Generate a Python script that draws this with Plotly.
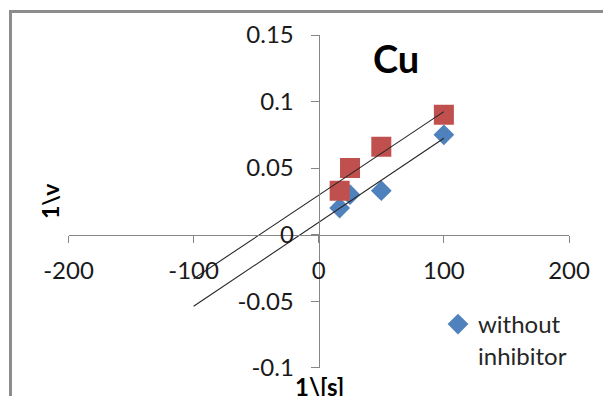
import numpy as np
import plotly.graph_objects as go

# Lineweaver-Burk data for Cu: 1/[S] against 1/v
inv_s = [16.7, 25, 50, 100]
inv_v_without = [0.020, 0.030, 0.033, 0.075]
inv_v_with = [0.033, 0.050, 0.066, 0.090]

x_tick_vals = [-200, -100, 0, 100, 200]
x_tick_text = ["-200", "-100", "0", "100", "200"]
y_tick_vals = [-0.1, -0.05, 0, 0.05, 0.1, 0.15]
y_tick_text = ["-0.1", "-0.05", "0", "0.05", "0.1", "0.15"]

x_range = [-200, 200]
y_range = [-0.1, 0.15]
trend_x = [-100, 100]  # trendlines extended backwards to 1/[S] = -100

W, H = 603, 396
x_dom = [68.5 / W, 569 / W]
y_dom = [1 - 367.7 / H, 1 - 35 / H]

FONT = "Lato"
BLUE = "#4F81BD"
RED = "#C0504D"
AXIS = "#868686"
FRAME = "#8c8c8c"


def cross_pos(dom, rng):
    # paper position of the value 0 on an axis
    return dom[0] + (0 - rng[0]) / (rng[1] - rng[0]) * (dom[1] - dom[0])


def px(x, y):
    # pixel position -> paper fractions
    return x / W, 1 - y / H


fig = go.Figure()

fig.add_trace(go.Scatter(
    x=inv_s, y=inv_v_without, mode="markers", name="without<br>inhibitor",
    marker=dict(symbol="diamond", size=16, color=BLUE),
    showlegend=True,
))
fig.add_trace(go.Scatter(
    x=inv_s, y=inv_v_with, mode="markers", name="with inhibitor",
    marker=dict(symbol="square", size=20, color=RED),
    showlegend=False,
))

# linear trendlines drawn over the markers
for ys in (inv_v_without, inv_v_with):
    slope, intercept = np.polyfit(inv_s, ys, 1)
    tx = np.array(trend_x, dtype=float)
    fig.add_trace(go.Scatter(
        x=tx, y=slope * tx + intercept, mode="lines",
        line=dict(color="#262626", width=1.1), showlegend=False,
        hoverinfo="skip",
    ))

# empty trace on a second pair of axes whose lines form the chart frame
fig.add_trace(go.Scatter(x=[None], y=[None], xaxis="x2", yaxis="y2",
                         showlegend=False, hoverinfo="skip"))

tick_font = dict(family=FONT, size=24, color="#1a1a1a")

cu_x, cu_y = px(396, 58)
yt_x, yt_y = px(50, 201)
xt_x, xt_y = px(319, 386)
lg_x, lg_y = px(438, 302)
fl, ft = px(11.5, 12.5)

frame_axis = dict(showline=True, linecolor=FRAME, linewidth=2.5,
                  showticklabels=False, ticks="", showgrid=False,
                  zeroline=False, automargin=False, fixedrange=True)

fig.update_layout(
    width=W, height=H,
    margin=dict(l=0, r=0, t=0, b=0, autoexpand=False),
    paper_bgcolor="white", plot_bgcolor="rgba(0,0,0,0)",
    xaxis=dict(
        range=x_range, domain=x_dom, anchor="free", automargin=False,
        position=cross_pos(y_dom, y_range),
        tickvals=x_tick_vals, ticktext=x_tick_text,
        showgrid=False, zeroline=False,
        showline=True, linecolor=AXIS, linewidth=1.3,
        ticks="outside", ticklen=7, tickcolor=AXIS, tickwidth=1.3,
        tickfont=tick_font, ticklabelstandoff=7,
    ),
    yaxis=dict(
        range=y_range, domain=y_dom, anchor="free", automargin=False,
        position=cross_pos(x_dom, x_range),
        tickvals=y_tick_vals, ticktext=y_tick_text,
        showgrid=False, zeroline=False,
        showline=True, linecolor=AXIS, linewidth=1.3,
        ticks="outside", ticklen=8, tickcolor=AXIS, tickwidth=1.3,
        tickfont=tick_font, ticklabelstandoff=12,
    ),
    xaxis2=dict(domain=[fl, 1], anchor="y2", side="top", range=[0, 1], **frame_axis),
    yaxis2=dict(domain=[0, ft], anchor="x2", side="left", range=[0, 1], **frame_axis),
    legend=dict(
        x=lg_x, y=lg_y, xanchor="left", yanchor="top",
        bgcolor="rgba(0,0,0,0)", borderwidth=0,
        font=dict(family=FONT, size=24, color="#262626"),
        valign="top",
    ),
    annotations=[
        dict(text="<b>Cu</b>", x=cu_x, y=cu_y, xref="paper", yref="paper",
             xanchor="center", yanchor="middle", showarrow=False,
             font=dict(family=FONT, size=38, color="black")),
        dict(text="<b>1\\v</b>", x=yt_x, y=yt_y, xref="paper", yref="paper",
             xanchor="center", yanchor="middle", showarrow=False, textangle=-90,
             font=dict(family=FONT, size=23, color="black")),
        dict(text="<b>1\\[s]</b>", x=xt_x, y=xt_y, xref="paper", yref="paper",
             xanchor="center", yanchor="middle", showarrow=False,
             font=dict(family=FONT, size=24, color="black")),
    ],
)

fig.write_html("out.html", config={"displayModeBar": False})
